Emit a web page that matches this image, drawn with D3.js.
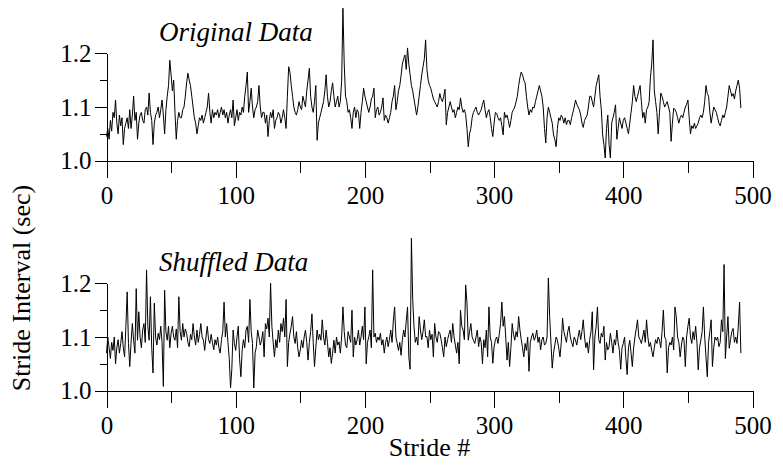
<!DOCTYPE html>
<html><head><meta charset="utf-8">
<script src="https://cdn.jsdelivr.net/npm/d3@7"></script>
<style>
html,body{margin:0;padding:0;background:#fff;}
svg{display:block;}
text{font-family:"Liberation Serif","Times New Roman",serif;fill:#000;}
</style></head>
<body>
<svg id="chart" width="783" height="465"></svg>
<script>
const originalData = [
1.045,1.060,1.040,1.075,1.055,1.090,1.080,1.113,1.070,
1.050,1.085,1.065,1.080,1.030,1.060,1.070,1.080,1.060,1.095,
1.060,1.085,1.120,1.075,1.090,1.040,1.070,1.085,1.090,1.075,
1.070,1.095,1.100,1.085,1.126,1.090,1.075,1.030,1.070,1.085,
1.090,1.100,1.080,1.095,1.113,1.085,1.050,1.095,1.120,1.140,
1.187,1.160,1.130,1.150,1.090,1.040,1.075,1.090,1.080,1.080,
1.095,1.100,1.120,1.145,1.163,1.150,1.140,1.120,1.100,
1.080,1.070,1.050,1.065,1.080,1.075,1.085,1.070,1.080,1.090,
1.100,1.126,1.090,1.070,1.095,1.080,1.090,1.085,1.095,1.080,
1.090,1.100,1.085,1.095,1.080,1.090,1.070,1.085,1.095,1.080,
1.113,1.065,1.080,1.095,1.075,1.090,1.085,1.100,1.090,1.120,
1.140,1.165,1.090,1.110,1.135,1.100,1.080,1.095,1.100,1.110,
1.140,1.100,1.080,1.090,1.090,1.070,1.085,1.045,1.075,
1.090,1.080,1.095,1.060,1.075,1.080,1.090,1.085,1.070,1.080,
1.095,1.080,1.060,1.120,1.175,1.165,1.140,1.120,1.100,1.090,
1.085,1.095,1.110,1.100,1.095,1.120,1.110,1.100,1.130,1.150,
1.172,1.120,1.100,1.090,1.110,1.140,1.038,1.070,1.080,1.090,
1.100,1.110,1.130,1.160,1.120,1.100,1.110,1.130,1.145,1.120,
1.100,1.110,1.120,1.100,1.110,1.150,1.284,1.180,1.120,
1.110,1.090,1.095,1.080,1.060,1.090,1.100,1.080,1.095,1.090,
1.060,1.090,1.110,1.135,1.120,1.110,1.100,1.090,1.100,1.115,
1.120,1.135,1.080,1.095,1.100,1.085,1.090,1.100,1.117,1.075,
1.085,1.080,1.070,1.080,1.090,1.110,1.120,1.140,1.095,1.110,
1.130,1.140,1.158,1.180,1.190,1.197,1.170,1.210,1.180,1.160,
1.140,1.130,1.115,1.100,1.085,1.100,1.120,1.140,1.160,1.175,
1.190,1.225,1.170,1.150,1.140,1.135,1.125,1.115,1.110,
1.105,1.100,1.110,1.125,1.115,1.110,1.120,1.133,1.067,1.090,
1.100,1.110,1.100,1.090,1.095,1.080,1.090,1.100,1.095,1.117,
1.100,1.090,1.095,1.086,1.060,1.026,1.050,1.060,1.080,1.090,
1.095,1.100,1.090,1.085,1.090,1.095,1.105,1.113,1.095,1.080,
1.090,1.095,1.080,1.060,1.045,1.070,1.090,1.088,1.080,1.075,
1.080,1.065,1.048,1.090,1.080,1.085,1.075,1.062,1.075,
1.090,1.095,1.100,1.110,1.120,1.140,1.155,1.165,1.160,1.150,
1.145,1.120,1.100,1.085,1.095,1.090,1.100,1.098,1.110,1.120,
1.130,1.140,1.130,1.120,1.100,1.060,1.033,1.080,1.100,1.090,
1.080,1.070,1.048,1.040,1.026,1.060,1.080,1.075,1.085,1.080,
1.070,1.080,1.067,1.075,1.075,1.067,1.080,1.090,1.100,1.113,
1.105,1.100,1.095,1.085,1.070,1.062,1.075,1.080,1.085,
1.100,1.120,1.120,1.110,1.100,1.120,1.140,1.150,1.160,1.120,
1.095,1.048,1.030,1.005,1.060,1.085,1.030,1.005,1.070,1.080,
1.090,1.104,1.040,1.060,1.080,1.070,1.060,1.075,1.080,1.070,
1.060,1.050,1.070,1.090,1.110,1.140,1.120,1.110,1.120,1.130,
1.140,1.110,1.080,1.090,1.070,1.095,1.100,1.110,1.155,1.180,
1.225,1.130,1.110,1.090,1.050,1.090,1.126,1.120,1.110,1.100,
1.105,1.110,1.100,1.090,1.036,1.070,1.098,1.095,1.090,
1.080,1.070,1.080,1.085,1.080,1.090,1.100,1.105,1.113,1.080,
1.050,1.065,1.060,1.070,1.060,1.065,1.070,1.080,1.085,1.080,
1.090,1.110,1.140,1.125,1.120,1.090,1.070,1.085,1.100,1.095,
1.090,1.080,1.070,1.065,1.075,1.085,1.080,1.090,1.100,1.120,
1.140,1.130,1.120,1.125,1.115,1.130,1.140,1.150,1.135,1.098
];
const shuffledData = [
1.070,1.100,1.080,1.060,1.090,1.075,1.100,1.050,1.080,
1.095,1.070,1.088,1.110,1.080,1.063,1.120,1.184,1.088,1.045,
1.090,1.125,1.094,1.070,1.190,1.094,1.147,1.100,1.080,1.113,
1.125,1.090,1.225,1.120,1.094,1.175,1.080,1.033,1.163,1.100,
1.085,1.107,1.095,1.120,1.090,1.008,1.187,1.110,1.094,1.120,
1.080,1.107,1.120,1.100,1.094,1.115,1.080,1.175,1.110,1.094,
1.125,1.100,1.115,1.107,1.090,1.082,1.105,1.095,1.125,
1.100,1.085,1.113,1.090,1.105,1.125,1.100,1.094,1.075,1.100,
1.120,1.095,1.088,1.105,1.090,1.076,1.095,1.085,1.100,1.080,
1.070,1.095,1.110,1.165,1.100,1.125,1.090,1.060,1.005,1.040,
1.113,1.088,1.075,1.100,1.120,1.060,1.026,1.076,1.095,1.080,
1.113,1.120,1.090,1.170,1.110,1.088,1.005,1.070,1.082,1.113,
1.100,1.085,1.094,1.110,1.063,1.125,1.115,1.135,1.100,
1.200,1.120,1.090,1.063,1.095,1.080,1.113,1.090,1.125,1.110,
1.135,1.100,1.170,1.045,1.090,1.107,1.120,1.138,1.100,1.088,
1.110,1.080,1.063,1.076,1.094,1.080,1.100,1.113,1.090,1.057,
1.090,1.110,1.143,1.090,1.045,1.080,1.113,1.095,1.105,1.094,
1.132,1.100,1.085,1.113,1.090,1.063,1.080,1.051,1.070,1.094,
1.070,1.100,1.085,1.091,1.070,1.100,1.156,1.110,1.085,
1.080,1.110,1.100,1.090,1.150,1.063,1.100,1.085,1.095,1.113,
1.085,1.100,1.120,1.095,1.156,1.050,1.090,1.100,1.113,1.080,
1.225,1.100,1.107,1.090,1.100,1.094,1.107,1.085,1.095,1.070,
1.090,1.100,1.082,1.095,1.113,1.090,1.130,1.156,1.100,1.088,
1.075,1.090,1.066,1.095,1.113,1.100,1.130,1.156,1.063,1.040,
1.284,1.170,1.120,1.090,1.100,1.085,1.138,1.113,1.095,1.110,
1.132,1.100,1.101,1.080,1.113,1.095,1.105,1.063,1.125,
1.100,1.090,1.110,1.107,1.095,1.080,1.063,1.100,1.082,1.095,
1.105,1.113,1.090,1.125,1.100,1.085,1.070,1.090,1.050,1.150,
1.120,1.113,1.095,1.197,1.163,1.094,1.110,1.125,1.100,1.094,
1.088,1.100,1.113,1.082,1.100,1.090,1.050,1.095,1.080,1.113,
1.063,1.156,1.100,1.090,1.051,1.082,1.095,1.100,1.088,1.105,
1.125,1.165,1.120,1.138,1.100,1.057,1.090,1.045,1.080,
1.125,1.105,1.094,1.110,1.100,1.138,1.113,1.095,1.080,1.063,
1.088,1.075,1.100,1.036,1.090,1.100,1.107,1.094,1.100,1.113,
1.090,1.100,1.076,1.095,1.100,1.085,1.088,1.100,1.210,1.138,
1.090,1.042,1.070,1.085,1.100,1.094,1.080,1.063,1.090,1.135,
1.110,1.100,1.090,1.110,1.120,1.100,1.090,1.082,1.100,1.094,
1.085,1.100,1.113,1.095,1.110,1.132,1.100,1.080,1.090,
1.070,1.095,1.110,1.147,1.039,1.100,1.120,1.156,1.095,1.088,
1.107,1.100,1.120,1.057,1.090,1.076,1.082,1.107,1.090,1.070,
1.095,1.085,1.113,1.090,1.075,1.040,1.080,1.088,1.100,1.060,
1.030,1.080,1.094,1.070,1.045,1.080,1.100,1.115,1.132,1.100,
1.095,1.088,1.100,1.113,1.090,1.132,1.100,1.082,1.090,1.075,
1.063,1.080,1.095,1.088,1.100,1.094,1.080,1.110,1.150,1.100,
1.095,1.033,1.080,1.090,1.085,1.100,1.076,1.156,1.138,
1.100,1.090,1.063,1.085,1.100,1.094,1.045,1.100,1.120,1.135,
1.100,1.088,1.110,1.095,1.120,1.090,1.039,1.080,1.094,1.110,
1.156,1.100,1.063,1.026,1.090,1.110,1.132,1.045,1.080,1.100,
1.094,1.100,1.082,1.090,1.132,1.110,1.235,1.060,1.100,1.138,
1.079,1.095,1.110,1.116,1.090,1.100,1.088,1.120,1.165,1.070
];
const xMajorTicks = [0, 100, 200, 300, 400, 500];
const xMinorTicks = [50, 150, 250, 350, 450];
const yMajorTicks = [1.0, 1.1, 1.2];
const yMinorTicks = [1.05, 1.15];
const panelTitles = ["Original Data", "Shuffled Data"];
const xLabel = "Stride #";
const yLabel = "Stride Interval (sec)";

const svg = d3.select("#chart");
const x = d3.scaleLinear().domain([0, 500]).range([106.5, 752.5]);

const panels = [
  {data: originalData, title: panelTitles[0], y0: 160.7, y1: 53.3},
  {data: shuffledData, title: panelTitles[1], y0: 390.7, y1: 283.3}
];

panels.forEach(p => {
  const y = d3.scaleLinear().domain([1.0, 1.2]).range([p.y0, p.y1]);
  const g = svg.append("g");

  const gxMaj = g.append("g").attr("transform", `translate(0,${p.y0})`)
    .call(d3.axisBottom(x).tickValues(xMajorTicks).tickSize(17).tickSizeOuter(0).tickPadding(9).tickFormat(d3.format("d")));
  const gxMin = g.append("g").attr("transform", `translate(0,${p.y0})`)
    .call(d3.axisBottom(x).tickValues(xMinorTicks).tickSize(12).tickSizeOuter(0).tickFormat(""));
  gxMin.select(".domain").remove();

  const gyMaj = g.append("g").attr("transform", `translate(${x(0)},0)`)
    .call(d3.axisLeft(y).tickValues(yMajorTicks).tickSize(12).tickSizeOuter(0).tickPadding(3).tickFormat(d3.format(".1f")));
  const gyMin = g.append("g").attr("transform", `translate(${x(0)},0)`)
    .call(d3.axisLeft(y).tickValues(yMinorTicks).tickSize(7).tickSizeOuter(0).tickFormat(""));
  gyMin.select(".domain").remove();

  g.selectAll(".tick line, .domain").attr("stroke", "#000").attr("stroke-width", 1)
    .attr("shape-rendering", "crispEdges");
  g.selectAll(".tick text").attr("font-size", 25)
    .attr("font-family", "'Liberation Serif','Times New Roman',serif").attr("fill", "#000");

  const line = d3.line().x((d, i) => x(i)).y(d => y(d));
  g.append("path").datum(p.data)
    .attr("fill", "none").attr("stroke", "#000").attr("stroke-width", 1)
    .attr("stroke-linejoin", "miter").attr("d", line);

  g.append("text").attr("x", 159).attr("y", p.y1 - 12)
    .attr("font-size", 27).attr("font-style", "italic").text(p.title);
});

svg.append("text").attr("x", x(250)).attr("y", 456)
  .attr("text-anchor", "middle").attr("font-size", 26).text(xLabel);

svg.append("text").attr("transform", "translate(30,288) rotate(-90)")
  .attr("text-anchor", "middle").attr("font-size", 26).text(yLabel);
</script>
</body></html>
